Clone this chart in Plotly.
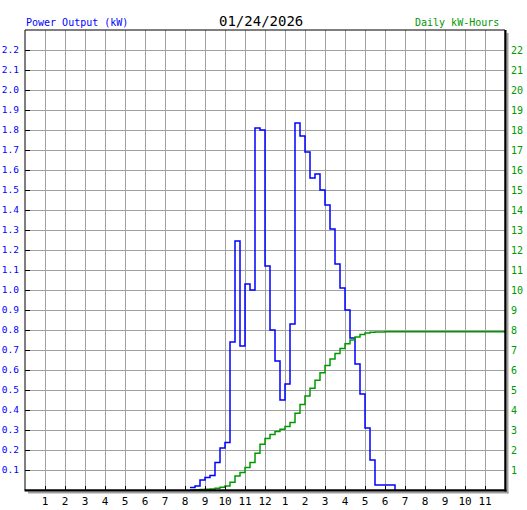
import plotly.graph_objects as go

# ---- data ----
time_hours = [8.25, 8.5, 8.75, 9.0, 9.25, 9.5, 9.75, 10.0, 10.25, 10.5, 10.75, 11.0,
              11.25, 11.5, 11.75, 12.0, 12.25, 12.5, 12.75, 13.0, 13.25, 13.5, 13.75,
              14.0, 14.25, 14.5, 14.75, 15.0, 15.25, 15.5, 15.75, 16.0, 16.25, 16.5,
              16.75, 17.0, 17.25, 17.5, 17.75, 18.0, 18.25, 18.5]
power_kw = [0.012, 0.02, 0.05, 0.062, 0.072, 0.137, 0.21, 0.237, 0.74, 1.245, 0.72, 1.03,
            1.00, 1.81, 1.80, 1.12, 0.80, 0.645, 0.45, 0.53, 0.83, 1.835, 1.77,
            1.69, 1.56, 1.58, 1.50, 1.425, 1.305, 1.13, 1.01, 0.90, 0.76, 0.63,
            0.48, 0.31, 0.15, 0.025, 0.025, 0.025, 0.025, 0.0]

energy_hours = [8.25, 8.5, 8.75, 9.0, 9.25, 9.5, 9.75, 10.0, 10.25, 10.5, 10.75, 11.0,
                11.25, 11.5, 11.75, 12.0, 12.25, 12.5, 12.75, 13.0, 13.25, 13.5, 13.75,
                14.0, 14.25, 14.5, 14.75, 15.0, 15.25, 15.5, 15.75, 16.0, 16.25, 16.5,
                16.75, 17.0, 17.25, 17.5, 17.75, 18.0, 18.25, 24.0]
energy_kwh = [0.0, 0.01, 0.02, 0.04, 0.05, 0.09, 0.14, 0.20, 0.39, 0.70, 0.88, 1.13,
              1.38, 1.84, 2.29, 2.57, 2.77, 2.93, 3.04, 3.17, 3.38, 3.84, 4.28,
              4.70, 5.09, 5.49, 5.86, 6.22, 6.55, 6.83, 7.08, 7.31, 7.50, 7.65,
              7.77, 7.85, 7.89, 7.90, 7.90, 7.91, 7.91, 7.91]

hour_ticks = list(range(1, 24))
hour_labels = ["1", "2", "3", "4", "5", "6", "7", "8", "9", "10", "11", "12",
               "1", "2", "3", "4", "5", "6", "7", "8", "9", "10", "11"]
kw_ticks = [round(0.1 * i, 1) for i in range(1, 23)]
kw_labels = ["%.1f" % v for v in kw_ticks]
kwh_ticks = list(range(1, 23))
kwh_labels = [str(v) for v in kwh_ticks]

title_text = "01/24/2026"
left_title = "Power Output (kW)"
right_title = "Daily kW-Hours"

FONT = "DejaVu Sans Mono"
BLUE = "#0000ff"
GREEN = "#009900"
GRID = "#a0a0a0"

# plot area geometry (pixels)
L, R, T, B = 25, 22, 30, 20
W, H = 527, 510
PW, PH = W - L - R, H - T - B


def px(x):
    return (x - L) / PW


def py(y):
    return (H - B - y) / PH


fig = go.Figure()
fig.add_trace(go.Scatter(x=time_hours, y=power_kw, mode="lines", line_shape="hv",
                         line=dict(color=BLUE, width=1.5), showlegend=False, yaxis="y"))
fig.add_trace(go.Scatter(x=energy_hours, y=energy_kwh, mode="lines", line_shape="hv",
                         line=dict(color=GREEN, width=1.5), showlegend=False, yaxis="y2"))

fig.update_layout(
    width=W, height=H,
    margin=dict(l=L, r=R, t=T, b=B, pad=0, autoexpand=False),
    paper_bgcolor="white", plot_bgcolor="white",
    showlegend=False,
    xaxis=dict(range=[0, 24], tickvals=hour_ticks, ticktext=hour_labels,
               showgrid=True, gridcolor=GRID, gridwidth=1, zeroline=False,
               showline=False, ticks="inside", ticklen=4, tickcolor="black", tickwidth=1,
               tickfont=dict(family=FONT, size=11, color="black"), ticklabelstandoff=3,
               automargin=False, fixedrange=True),
    yaxis=dict(range=[0, 2.3], tickvals=kw_ticks, ticktext=kw_labels,
               showgrid=True, gridcolor=GRID, gridwidth=1, zeroline=False,
               showline=False, ticks="inside", ticklen=5, tickcolor="black", tickwidth=1,
               tickfont=dict(family=FONT, size=9.5, color=BLUE), ticklabelstandoff=5,
               automargin=False, fixedrange=True),
    yaxis2=dict(range=[0, 23], tickvals=kwh_ticks, ticktext=kwh_labels,
                overlaying="y", side="right", showgrid=False, zeroline=False,
                showline=False, ticks="",
                tickfont=dict(family=FONT, size=10, color=GREEN), ticklabelstandoff=5,
                automargin=False, fixedrange=True),
    annotations=[
        dict(text=title_text, xref="paper", yref="paper", x=px(261), y=py(20.5),
             xanchor="center", yanchor="middle", showarrow=False,
             font=dict(family=FONT, size=14, color="black")),
        dict(text=left_title, xref="paper", yref="paper", x=px(24), y=py(23),
             xanchor="left", yanchor="middle", showarrow=False,
             font=dict(family=FONT, size=10, color=BLUE)),
        dict(text=right_title, xref="paper", yref="paper", x=px(501), y=py(23),
             xanchor="right", yanchor="middle", showarrow=False,
             font=dict(family=FONT, size=10, color=GREEN)),
    ],
    shapes=[
        # shadow
        dict(type="line", xref="paper", yref="paper", x0=px(507.5), x1=px(507.5),
             y0=py(33), y1=py(493.5), line=dict(color="#a0a0a0", width=2), layer="above"),
        dict(type="line", xref="paper", yref="paper", x0=px(28), x1=px(508.5),
             y0=py(492.5), y1=py(492.5), line=dict(color="#a0a0a0", width=2), layer="above"),
        # frame
        dict(type="rect", xref="paper", yref="paper", x0=0, x1=1, y0=0, y1=1,
             line=dict(color="black", width=1), layer="above"),
        dict(type="line", xref="paper", yref="paper", x0=px(505.5), x1=px(505.5),
             y0=py(30), y1=py(491.5), line=dict(color="black", width=2), layer="above"),
        dict(type="line", xref="paper", yref="paper", x0=px(24.5), x1=px(506.5),
             y0=py(490.5), y1=py(490.5), line=dict(color="black", width=2), layer="above"),
    ],
)

fig.write_html(
    "out.html",
    config={"displayModeBar": False},
    post_script="document.body.style.margin='0';document.body.style.overflow='hidden';",
)
